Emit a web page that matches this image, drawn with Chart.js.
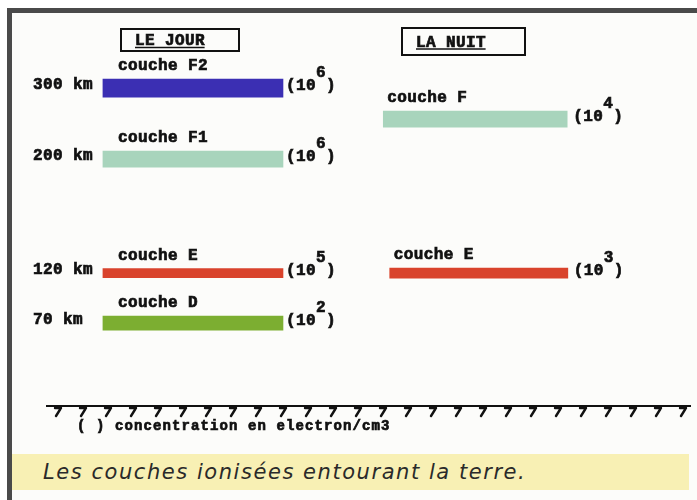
<!DOCTYPE html>
<html lang="fr">
<head>
  <meta charset="UTF-8" />
  <title>Les couches ionisées entourant la terre</title>
  <style>
  body {
    margin: 0;
    padding: 0;
    background: #ffffff;
  }
  .frame {
    position: absolute;
    left: 7px;
    top: 8px;
    width: 690px;
    height: 492px;
    border-left: 5px solid #4a4a4a;
    border-top: 5px solid #4a4a4a;
    background: #fcfcfa;
  }
  .caption {
    position: absolute;
    left: 12px;
    top: 454px;
    width: 677px;
    height: 36px;
    padding-left: 31px;
    box-sizing: border-box;
    background: #f8f0b4;
    font-family: "DejaVu Sans", sans-serif;
    font-style: italic;
    font-size: 21px;
    letter-spacing: 1.55px;
    line-height: 36px;
    color: #2a2a2a;
  }
  canvas {
    position: absolute;
    left: 0;
    top: 0;
  }
  </style>
  <script src="https://cdn.jsdelivr.net/npm/chart.js"></script>
</head>
<body>
  <div class="frame"></div>
  <div class="caption">Les couches ionisées entourant la terre.</div>
  <canvas id="couches" width="697" height="500"></canvas>

  <script>
  // layers (day first, then night)
  const layerNames = ['couche F2', 'couche F1', 'couche E', 'couche D', 'couche F', 'couche E'];
  const periods = ['LE JOUR', 'LE JOUR', 'LE JOUR', 'LE JOUR', 'LA NUIT', 'LA NUIT'];
  const altitudeLabels = ['300 km', '200 km', '120 km', '70 km', '', ''];
  // schematic height of each layer (0 = ground, 100 = top of the figure)
  const rowLevels = [80.9, 62.8, 33.8, 21.1, 73.0, 33.8];
  // horizontal extent of each bar (0..100 across the figure)
  const barStarts = [8.7, 8.7, 8.7, 8.7, 52.3, 53.3];
  const barEnds = [36.7, 36.7, 36.7, 36.7, 80.9, 81.0];
  // concentration exponent: 10^n electrons / cm3
  const exponents = ['6', '6', '5', '2', '4', '3'];
  const panelTitles = ['LE JOUR', 'LA NUIT'];
  const noteText = '( ) concentration en electron/cm3';

  const barColors = ['#3b2fb3', '#a8d4bc', '#d9432c', '#7cae31', '#a8d4bc', '#d9432c'];
  const barSizes = [18, 16, 9, 14, 16, 10];

  const MONO = '"Liberation Mono", "DejaVu Sans Mono", monospace';

  // fill + thin stroke, to get the heavy look of the old screen font
  function heavyText(ctx, s, x, y) {
    ctx.fillText(s, x, y);
    ctx.lineWidth = 0.7;
    ctx.strokeText(s, x, y);
  }

  const labelsPlugin = {
    id: 'labels',
    afterDatasetsDraw(chart) {
      const ctx = chart.ctx;
      const area = chart.chartArea;
      ctx.save();
      ctx.fillStyle = '#111';
      ctx.strokeStyle = '#111';
      ctx.font = 'bold 16px ' + MONO;
      ctx.letterSpacing = '0.4px';
      ctx.textBaseline = 'alphabetic';

      layerNames.forEach((name, i) => {
        const bar = chart.getDatasetMeta(i).data[0];
        const p = bar.getProps(['x', 'y', 'base', 'height'], true);
        const left = Math.min(p.x, p.base);
        const right = Math.max(p.x, p.base);
        const top = p.y - p.height / 2;
        const night = periods[i] === 'LA NUIT';

        // layer name above the bar
        ctx.textAlign = 'left';
        heavyText(ctx, name, left + (night ? 4 : 15), top - 9);

        // altitude at the left
        if (altitudeLabels[i]) {
          ctx.textBaseline = 'middle';
          heavyText(ctx, altitudeLabels[i], 33, p.y - 3);
          ctx.textBaseline = 'alphabetic';
        }

        // (10 n) at the right
        const tx = right + (night ? 6 : 3);
        ctx.textBaseline = 'middle';
        heavyText(ctx, '(10 )', tx, p.y - 2);
        heavyText(ctx, exponents[i], tx + 30, p.y - 15);
        ctx.textBaseline = 'alphabetic';
      });

      // panel titles in boxes
      const boxes = [[121, 29, 118, 22], [402, 28, 123, 27]];
      panelTitles.forEach((t, k) => {
        const [bx, by, bw, bh] = boxes[k];
        ctx.lineWidth = 2;
        ctx.strokeRect(bx, by, bw, bh);
        ctx.textAlign = 'left';
        ctx.textBaseline = 'alphabetic';
        const tx = bx + 14;
        const ty = by + bh / 2 + 5;
        heavyText(ctx, t, tx, ty);
        const w = ctx.measureText(t).width - 0.4;
        ctx.lineWidth = 1.5;
        ctx.beginPath();
        ctx.moveTo(tx, ty + 2.5);
        ctx.lineTo(tx + w, ty + 2.5);
        ctx.stroke();
      });

      // hatching under the ground line
      ctx.lineWidth = 2.4;
      ctx.lineCap = 'round';
      for (let x = 56; x <= 685; x += 25) {
        ctx.beginPath();
        ctx.moveTo(x - 1, area.bottom + 2);
        ctx.lineTo(x + 5, area.bottom + 2);
        ctx.moveTo(x + 5, area.bottom + 2);
        ctx.lineTo(x, area.bottom + 10);
        ctx.stroke();
      }

      // note below the ground
      ctx.font = 'bold 14px ' + MONO;
      ctx.letterSpacing = '1.1px';
      ctx.textBaseline = 'middle';
      heavyText(ctx, noteText, 77, area.bottom + 20);
      ctx.restore();
    }
  };

  const datasets = layerNames.map((name, i) => ({
    label: name + ' (' + periods[i] + ')',
    data: [{ y: rowLevels[i], x: [barStarts[i], barEnds[i]] }],
    backgroundColor: barColors[i],
    borderWidth: 0,
    barThickness: barSizes[i],
    grouped: false
  }));

  new Chart(document.getElementById('couches'), {
    type: 'bar',
    data: { datasets: datasets },
    options: {
      indexAxis: 'y',
      responsive: false,
      animation: false,
      layout: { padding: { left: 47, right: 7, top: 13, bottom: 94 } },
      plugins: {
        legend: { display: false },
        tooltip: { enabled: false }
      },
      scales: {
        x: {
          type: 'linear',
          min: 0,
          max: 100,
          grid: { display: false, drawTicks: false },
          ticks: { display: false },
          border: { display: true, color: '#111', width: 2 }
        },
        y: {
          type: 'linear',
          min: 0,
          max: 100,
          offset: false,
          display: false
        }
      }
    },
    plugins: [labelsPlugin]
  });
  </script>
</body>
</html>
